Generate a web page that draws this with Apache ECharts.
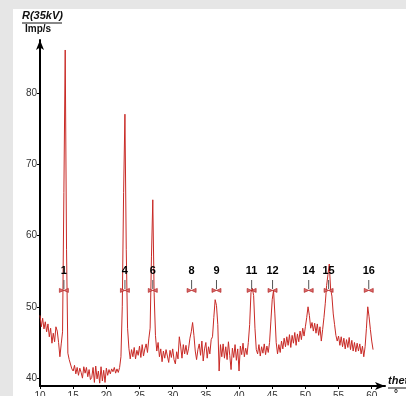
<!DOCTYPE html>
<html>
<head>
<meta charset="utf-8">
<script src="https://cdn.jsdelivr.net/npm/echarts@6/dist/echarts.min.js"></script>
<style>
  html, body { margin: 0; padding: 0; background: #e6e6e6; }
  #chart { width: 406px; height: 396px; }
</style>
</head>
<body>
<div id="chart"></div>
<script>
// 2theta scan grid: start and step of the measured points
const scanStart = 10.0
const scanStep = 0.2

// measured intensity (Imp/s), one value per step from 10.0 to 60.2
const intensity = [
  48.8, 47.2, 48.4, 46.9, 47.9, 46.5, 47.6, 45.8, 47.0, 44.9,
  46.3, 45.1, 47.2, 46.6, 45.0, 43.0, 44.8, 46.5, 66.0, 86.0,
  58.0, 43.5, 42.6, 42.8, 41.3, 41.0, 41.8, 40.6, 41.5, 40.4,
  41.4, 40.8, 40.0, 41.6, 40.7, 41.5, 40.2, 41.2, 39.8, 40.1,
  41.5, 39.4, 41.7, 39.9, 41.0, 39.3, 41.6, 39.6, 41.1, 39.4,
  41.4, 40.4, 41.2, 40.6, 41.3, 40.9, 41.5, 40.7, 41.3, 40.8,
  41.5, 43.0, 50.0, 66.0, 77.0, 58.0, 47.0, 44.2, 42.7, 44.0,
  43.0, 44.3, 42.7, 43.9, 43.2, 44.5, 42.9, 44.7, 43.1, 44.1,
  44.8, 43.6, 45.5, 47.0, 57.0, 65.0, 52.0, 46.0, 43.8, 45.0,
  43.0, 44.1, 42.3, 43.8, 42.8, 44.0, 43.1, 42.2, 43.9, 42.9,
  44.1, 42.6, 42.0, 43.7, 42.7, 45.8, 44.5, 42.8, 44.7, 43.4,
  44.6, 43.3, 44.2, 45.6, 46.5, 47.8, 46.0, 43.8, 42.6, 44.0,
  44.8, 43.2, 45.2, 42.4, 44.1, 45.0, 42.8, 44.4, 43.4, 45.4,
  45.8, 48.5, 51.0, 50.2, 47.5, 41.0, 44.7, 43.0, 44.8, 42.8,
  44.4, 42.6, 45.1, 43.2, 41.2, 44.2, 42.9, 44.7, 42.5, 44.1,
  41.0, 44.5, 43.3, 44.9, 43.0, 44.2, 43.3, 45.0, 47.5, 52.0,
  52.6, 51.6, 47.0, 44.0, 43.4, 44.7, 43.1, 44.4, 43.5, 44.8,
  43.3, 44.5, 43.6, 45.0, 48.0, 51.0, 52.3, 49.0, 45.0, 43.4,
  44.7, 43.6, 45.2, 44.1, 45.6, 44.4, 45.8, 44.6, 46.1, 44.3,
  46.0, 44.9, 46.4, 44.6, 46.2, 45.1, 46.6, 45.4, 47.0, 45.9,
  47.2, 48.5, 50.0, 48.8, 47.0, 47.8, 46.6, 47.7, 46.3, 47.6,
  46.0, 47.2, 45.2, 46.8, 48.5, 50.5, 53.0, 54.5, 56.0, 52.5,
  51.5, 49.0, 47.5, 46.0, 45.2, 45.9, 44.6, 45.8, 44.4, 45.6,
  44.1, 45.4, 44.3, 45.7, 44.0, 45.3, 43.8, 45.0, 43.7, 44.9,
  43.8, 44.8, 43.4, 44.5, 43.0, 44.4, 47.0, 50.0, 48.6, 46.8,
  45.2, 44.0
]

// indexed peak marks
const peakNames = ['1', '4', '6', '8', '9', '11', '12', '14', '15', '16']
const peakPositions = [13.6, 22.8, 27.0, 32.85, 36.6, 41.9, 45.05, 50.5, 53.5, 59.55]
const peakMarkLevel = 52.3

const yTickValues = [40, 50, 60, 70, 80]
const xTickValues = [10, 15, 20, 25, 30, 35, 40, 45, 50, 55, 60]

const font = 'Liberation Sans, Arial, sans-serif'

const scan = intensity.map((v, i) => [+(scanStart + i * scanStep).toFixed(2), v])
const peaks = peakPositions.map((x, i) => ({ name: peakNames[i], value: [x, peakMarkLevel] }))

const chart = echarts.init(document.getElementById('chart'), null, { renderer: 'canvas' })

chart.setOption({
  backgroundColor: '#e6e6e6',
  animation: false,
  textStyle: { fontFamily: font },
  graphic: [
    { type: 'rect', z: -10, shape: { x: 13, y: 9, width: 400, height: 400 }, style: { fill: '#ffffff' } },
    { type: 'text', left: 22, top: 10, style: { text: 'R(35kV)', font: 'italic bold 11px ' + font, fill: '#111' } },
    { type: 'line', shape: { x1: 22, y1: 23, x2: 62, y2: 23 }, style: { stroke: '#111', lineWidth: 1 } },
    { type: 'text', left: 25, top: 24, style: { text: 'Imp/s', font: 'bold 10px ' + font, fill: '#111' } },
    { type: 'text', left: 388, top: 375, style: { text: 'theta', font: 'italic bold 11px ' + font, fill: '#111' } },
    { type: 'line', shape: { x1: 388, y1: 388, x2: 420, y2: 388 }, style: { stroke: '#111', lineWidth: 1 } },
    { type: 'text', left: 394, top: 389, style: { text: '°', font: 'bold 10px ' + font, fill: '#111' } }
  ],
  grid: { left: 40, right: 21, top: 40, bottom: 10, outerBoundsMode: 'none' },
  xAxis: {
    type: 'value',
    min: 10,
    max: 62,
    axisLine: { lineStyle: { color: '#000', width: 2 }, symbol: ['none', 'arrow'], symbolSize: [6, 10] },
    axisTick: { show: true, length: 3, lineStyle: { color: '#000' }, customValues: xTickValues },
    axisLabel: { fontSize: 10, color: '#333', margin: 5, customValues: xTickValues },
    splitLine: { show: false }
  },
  yAxis: {
    type: 'value',
    min: 38.9,
    max: 87.4,
    axisLine: { show: true, lineStyle: { color: '#000', width: 2 }, symbol: ['none', 'arrow'], symbolSize: [6, 10] },
    axisTick: { show: true, length: 3, lineStyle: { color: '#000' }, customValues: yTickValues },
    axisLabel: { fontSize: 10, color: '#333', margin: 3, customValues: yTickValues },
    splitLine: { show: false }
  },
  series: [
    {
      type: 'line',
      data: scan,
      showSymbol: false,
      lineStyle: { color: '#c92a26', width: 1 },
      z: 2
    },
    {
      type: 'scatter',
      data: peaks,
      symbol: 'rect',
      symbolSize: [1, 9],
      symbolOffset: [0, -6],
      itemStyle: { color: '#555', opacity: 1 },
      label: {
        show: true,
        position: 'top',
        distance: 3,
        formatter: (p) => p.name,
        fontFamily: font,
        fontSize: 11,
        fontWeight: 'bold',
        color: '#000',
        opacity: 1
      },
      z: 4
    },
    {
      type: 'scatter',
      data: peaks,
      symbol: 'path://M0,0 L5,2 L10,0 L10,4 L5,2 L0,4 Z',
      symbolSize: [9, 4],
      itemStyle: { color: '#d96a6a', borderColor: '#b02020', borderWidth: 0.6, opacity: 1 },
      z: 5
    }
  ]
})
</script>
</body>
</html>
